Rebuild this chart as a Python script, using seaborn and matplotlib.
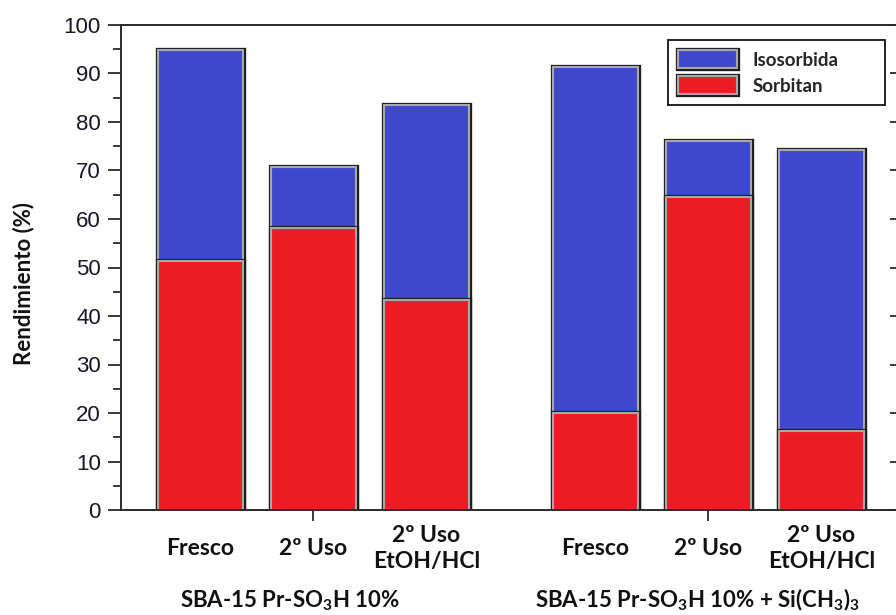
import matplotlib
matplotlib.use("Agg")
import matplotlib.pyplot as plt
import matplotlib.patheffects as pe
from matplotlib.patches import Patch
from matplotlib.ticker import MultipleLocator
import pandas as pd
import seaborn as sns

# Yields per catalyst and cycle
categories = ["Fresco", "2º Uso", "2º Uso\nEtOH/HCl",
              "Fresco", "2º Uso", "2º Uso\nEtOH/HCl"]
positions = [0, 1, 2, 3.5, 4.5, 5.5]
sorbitan = [51.4, 58.1, 43.3, 19.9, 64.6, 16.3]
isosorbida = [43.4, 12.7, 40.2, 71.4, 11.5, 57.9]
catalysts = [r"SBA-15 Pr-SO$_\mathbf{3}$H 10%",
             r"SBA-15 Pr-SO$_\mathbf{3}$H 10% + Si(CH$_\mathbf{3}$)$_\mathbf{3}$"]
catalyst_x = [0.79, 4.40]
y_ticks = [0, 10, 20, 30, 40, 50, 60, 70, 80, 90, 100]

BLUE = "#3f48cc"
RED = "#ed1c24"
INNER = "#a8a8a8"
OUTER = "#1c1c1c"

df = pd.DataFrame({"pos": positions, "Sorbitan": sorbitan, "Isosorbida": isosorbida})
df["Total"] = df["Sorbitan"] + df["Isosorbida"]

sns.set_style("ticks")
plt.rcParams["font.family"] = ["Liberation Sans", "DejaVu Sans"]
plt.rcParams["mathtext.fontset"] = "custom"
plt.rcParams["mathtext.bf"] = "Lato:bold"
plt.rcParams["mathtext.rm"] = "Lato"

LABEL_FONT = ["Lato", "DejaVu Sans"]

fig = plt.figure(figsize=(8.96, 6.15), dpi=100)
ax = fig.add_axes([121 / 896, 105 / 615, 777 / 896, 485 / 615])

edge_fx = [pe.Stroke(linewidth=3.8, foreground=OUTER), pe.Normal()]
bar_kw = dict(native_scale=True, width=0.75, saturation=1, errorbar=None,
              edgecolor=INNER, linewidth=1.5, path_effects=edge_fx, ax=ax)

# stacked bars: full height in blue, sorbitan share in red over it
sns.barplot(data=df, x="pos", y="Total", color=BLUE, **bar_kw)
sns.barplot(data=df, x="pos", y="Sorbitan", color=RED, **bar_kw)

ax.set_xlim(-0.705, 6.18)
ax.set_ylim(0, 100)
ax.set_yticks(y_ticks)
ax.yaxis.set_minor_locator(MultipleLocator(5))
ax.set_xticks([positions[1], positions[4]])
ax.set_xticklabels([])
ax.set_xlabel("")

spine_c = "#2a2a2a"
for s in ax.spines.values():
    s.set_visible(True)
    s.set_linewidth(1.4)
    s.set_color(spine_c)

ax.tick_params(axis="y", which="major", direction="out", length=9.5, width=1.3,
               color=spine_c, labelsize=16, labelcolor="#16162a", pad=5)
ax.tick_params(axis="y", which="minor", direction="out", length=5.5, width=1.3,
               color=spine_c)
ax.tick_params(axis="x", which="major", direction="out", length=8, width=1.3,
               color=spine_c)

# inward ticks along the right spine
ax2 = ax.twinx()
ax2.set_ylim(0, 100)
ax2.set_yticks(y_ticks)
ax2.yaxis.set_minor_locator(MultipleLocator(5))
ax2.tick_params(axis="y", which="major", direction="in", length=6, width=1.3,
                color=spine_c, labelright=False)
ax2.tick_params(axis="y", which="minor", direction="in", length=1.5, width=1.0,
                color="#777777")
for s in ax2.spines.values():
    s.set_visible(False)

ax.set_ylabel("Rendimiento (%)", fontsize=16, fontweight="bold",
              family=LABEL_FONT, color="#111111")
ax.yaxis.set_label_coords(-0.112, 0.468)

# category labels under each bar
xt = ax.get_xaxis_transform()
for x, lab in zip(positions, categories):
    ax.text(x, -0.0785, lab, transform=xt, ha="center", va="center",
            fontsize=16.5, fontweight="bold", family=LABEL_FONT,
            color="#111111", linespacing=1.3)

for x, lab in zip(catalyst_x, catalysts):
    ax.text(x, -0.186, lab, transform=xt, ha="center", va="center",
            fontsize=16, fontweight="bold", family=LABEL_FONT, color="#111111")

handles = [Patch(facecolor=BLUE, edgecolor=INNER, linewidth=1.5,
                 path_effects=edge_fx, label="Isosorbida"),
           Patch(facecolor=RED, edgecolor=INNER, linewidth=1.5,
                 path_effects=edge_fx, label="Sorbitan")]
leg = ax.legend(handles=handles, loc="upper left",
                bbox_to_anchor=(0.704, 0.0, 0.279, 0.969), mode="expand",
                borderaxespad=0, fancybox=False, framealpha=1, edgecolor="#111111",
                prop={"family": LABEL_FONT, "weight": "bold", "size": 13.5},
                handlelength=3.15, handleheight=1.1, handletextpad=0.8,
                labelspacing=0.4, borderpad=0.55)
leg.get_frame().set_linewidth(1.3)
leg.set_zorder(5)

fig.savefig("out.png", dpi=100)
